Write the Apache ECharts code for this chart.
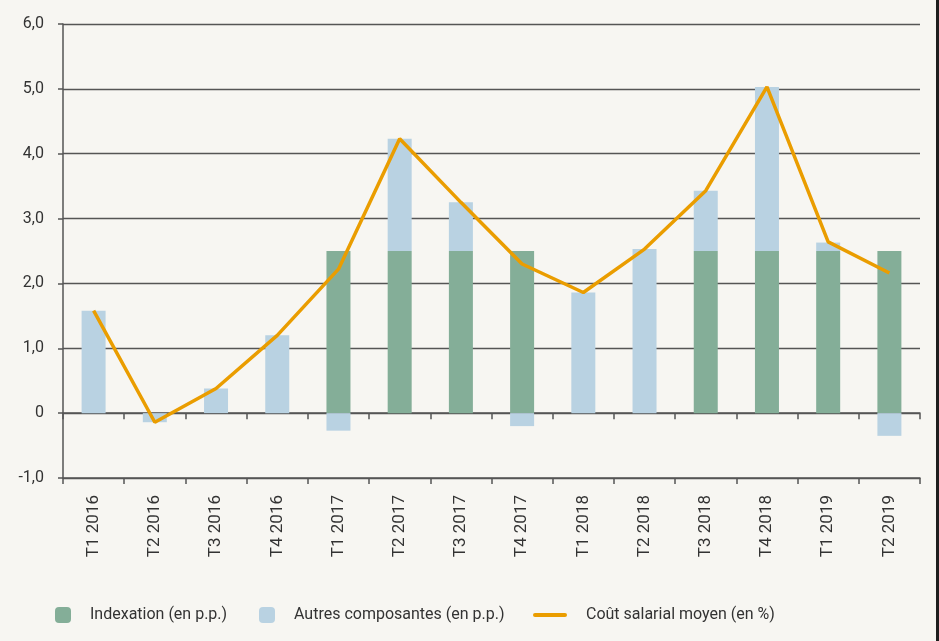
<!DOCTYPE html>
<html>
<head>
<meta charset="utf-8">
<script src="https://cdn.jsdelivr.net/npm/echarts@6/dist/echarts.min.js"></script>
<style>
html,body{margin:0;padding:0;background:#f7f6f2;}
#chart{width:939px;height:641px;}
</style>
</head>
<body>
<div id="chart"></div>
<script>
var categories = ['T1 2016','T2 2016','T3 2016','T4 2016','T1 2017','T2 2017','T3 2017','T4 2017','T1 2018','T2 2018','T3 2018','T4 2018','T1 2019','T2 2019'];
var indexation = [0, 0, 0, 0, 2.5, 2.5, 2.5, 2.5, 0, 0, 2.5, 2.5, 2.5, 2.5];
var autres = [1.58, -0.14, 0.38, 1.2, -0.27, 1.73, 0.75, -0.2, 1.86, 2.53, 0.93, 2.53, 0.13, -0.35];
var cout = [1.58, -0.14, 0.38, 1.2, 2.22, 4.23, 3.25, 2.3, 1.86, 2.53, 3.43, 5.03, 2.64, 2.16];
var seriesNames = ['Indexation (en p.p.)', 'Autres composantes (en p.p.)', 'Coût salarial moyen (en %)'];

var FONT = 'Roboto, "Liberation Sans", sans-serif';
var chart = echarts.init(document.getElementById('chart'), null, {renderer: 'canvas'});
var legendBase = {
  top: 607, itemWidth: 16, itemHeight: 16, itemGap: 0,
  textStyle: {fontFamily: FONT, fontSize: 16, color: '#333', padding: [0,0,0,14]},
  padding: 0, selectedMode: false
};
chart.setOption({
  backgroundColor: '#f7f6f2',
  animation: false,
  grid: {left: 63, right: 19, top: 24, bottom: 163, containLabel: false},
  legend: [
    Object.assign({}, legendBase, {left: 55, data: [seriesNames[0]]}),
    Object.assign({}, legendBase, {left: 259, data: [seriesNames[1]]}),
    Object.assign({}, legendBase, {left: 533, itemWidth: 34, itemStyle: {opacity: 0},
      data: [{name: seriesNames[2], icon: 'rect'}]})
  ],
  xAxis: [{
    type: 'category', data: categories, position: 'bottom',
    axisLine: {onZero: false, lineStyle: {color: '#555', width: 1.5}},
    axisTick: {show: true, length: 6, lineStyle: {color: '#555', width: 1.5}},
    axisLabel: {rotate: 90, margin: 17, fontFamily: FONT, fontSize: 17, color: '#333'},
    splitLine: {show: false}
  }, {
    type: 'category', data: categories, position: 'top',
    axisLine: {onZero: true, lineStyle: {color: '#555', width: 1.5}},
    axisTick: {show: true, inside: true, length: 6, lineStyle: {color: '#555', width: 1.5}},
    axisLabel: {show: false},
    splitLine: {show: false}
  }],
  yAxis: {
    type: 'value', min: -1, max: 6, interval: 1,
    axisLine: {show: true, lineStyle: {color: '#555', width: 1.5}},
    axisTick: {show: true, length: 5, lineStyle: {color: '#555', width: 1.5}},
    axisLabel: {margin: 19, fontFamily: FONT, fontSize: 16, color: '#333',
      formatter: function(v){ return v === 0 ? '0' : v.toFixed(1).replace('.', ','); }},
    splitLine: {show: true, lineStyle: {color: '#555', width: 1.3}}
  },
  series: [{
    name: seriesNames[0], type: 'bar', stack: 'a', data: indexation, barWidth: 24,
    itemStyle: {color: '#84ae98'}
  }, {
    name: seriesNames[1], type: 'bar', stack: 'a', data: autres, barWidth: 24,
    itemStyle: {color: '#b9d2e2'}
  }, {
    name: seriesNames[2], type: 'line', data: cout, showSymbol: false, symbol: 'none', z: 5,
    lineStyle: {color: '#ea9d00', width: 3.5}, itemStyle: {color: '#ea9d00'}
  }],
  graphic: [{
    type: 'rect', shape: {x: 936, y: 0, width: 3, height: 641}, style: {fill: '#1e1e1e'}, silent: true
  }, {
    type: 'rect', shape: {x: 533, y: 613, width: 34, height: 4, r: 2}, style: {fill: '#ea9d00'}, silent: true
  }]
});
</script>
</body>
</html>
